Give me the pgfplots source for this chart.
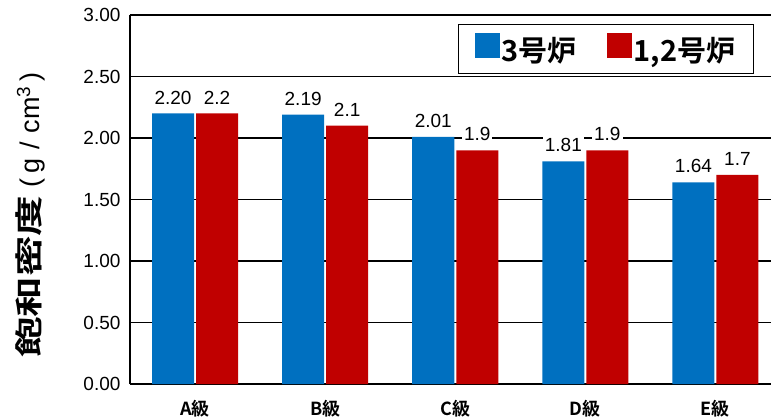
\documentclass[border=0pt]{standalone}
\usepackage{fontspec}
\usepackage{pgfplots}
\pgfplotsset{compat=1.18}
\setmainfont{Liberation Sans}
\newfontfamily\jp{Noto Sans CJK JP Bold}
\newfontfamily\jplab{Noto Sans CJK JP Bold}[FakeStretch=1.45]
\definecolor{cblue}{RGB}{0,112,192}
\definecolor{cred}{RGB}{192,0,0}
\begin{document}
\begin{tikzpicture}
\begin{axis}[name=ax,
  scale only axis, width=641pt, height=369pt,
  ybar=2pt, bar width=42pt,
  xmin=-0.5, xmax=4.427, ymin=0, ymax=3,
  ytick={0,0.5,1,1.5,2,2.5,3},
  /pgf/number format/assume math mode=true,
  yticklabel style={/pgf/number format/fixed, /pgf/number format/fixed zerofill, /pgf/number format/precision=2, font=\fontsize{19}{19}\selectfont, xshift=-6pt},
  xtick={0,1,2,3,4},
  xticklabels={A級,B級,C級,D級,E級},
  xticklabel style={font=\jp\fontsize{18}{18}\selectfont, yshift=-8pt},
  axis x line*=bottom, axis y line*=left,
  axis line style={line width=1.5pt, -},
  ymajorgrids, major grid style={black, line width=1.2pt},
  tick style={draw=none},
  clip=true,
  nodes near coords, point meta=explicit symbolic,
  nodes near coords style={font=\fontsize{19}{19}\selectfont, fill=white, inner sep=2pt, yshift=7pt},
  ylabel={{\jplab\fontsize{28}{28}\selectfont 飽和密度}\hspace{8pt}(\hspace{5pt}g\hspace{9pt}/\hspace{9pt}cm\textsuperscript{3}\hspace{5pt})},
  ylabel style={at={(axis description cs:-0.156,0.458)}, anchor=center, font=\fontsize{27}{27}\selectfont},
  legend columns=2,
  legend image code/.code={\path[#1,draw=none] (0pt,-7pt) rectangle (25pt,18pt);},
  legend style={at={(axis description cs:0.5117,0.9756)}, anchor=north west,
    draw=black, line width=1.2pt, fill=white,
    font=\jp\fontsize{29}{29}\selectfont,
    inner xsep=16pt, inner ysep=8pt,
    nodes={inner sep=2pt},
    /tikz/every even column/.append style={column sep=28pt}},
]
\addplot[fill=cblue, draw=none] coordinates {(0,2.20) [2.20] (1,2.19) [2.19] (2,2.01) [2.01] (3,1.81) [1.81] (4,1.64) [1.64]};
\addplot[fill=cred, draw=none] coordinates {(0,2.2) [2.2] (1,2.1) [2.1] (2,1.9) [1.9] (3,1.9) [1.9] (4,1.7) [1.7]};
\legend{3号炉,{1,2号炉}}
\end{axis}
\pgfresetboundingbox
\path ([shift={(-130pt,-34pt)}]ax.south west) rectangle ++(771pt,418pt);
\end{tikzpicture}
\end{document}
